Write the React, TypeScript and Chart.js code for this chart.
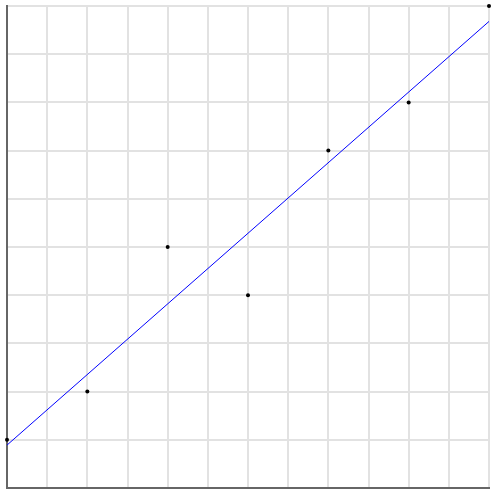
import React, { useEffect, useRef } from "react";
import { Chart, registerables } from "chart.js";

Chart.register(...registerables);

const pointX = [0, 2, 4, 6, 8, 10, 12];
const pointY = [1, 2, 5, 4, 7, 8, 10];
const fitX = [0, 12];
const fitY = [0.89, 9.68];

export default function App() {
  const ref = useRef<HTMLCanvasElement | null>(null);
  useEffect(() => {
    if (!ref.current) return;
    const chart = new Chart(ref.current, {
      type: "scatter",
      data: {
        datasets: [
          {
            label: "points",
            data: pointX.map((x, i) => ({ x, y: pointY[i] })),
            backgroundColor: "#000",
            borderColor: "#000",
            pointRadius: 2,
            borderWidth: 0,
            clip: false as any,
          },
          {
            label: "fit",
            type: "line" as any,
            data: fitX.map((x, i) => ({ x, y: fitY[i] })),
            borderColor: "#0000ff",
            borderWidth: 1,
            pointRadius: 0,
            fill: false,
          },
        ],
      },
      options: {
        animation: false,
        responsive: false,
        maintainAspectRatio: false,
        layout: { padding: { left: 7, top: 6, right: 11, bottom: 11 } },
        plugins: { legend: { display: false }, tooltip: { enabled: false } },
        scales: {
          x: {
            type: "linear",
            min: 0,
            max: 12,
            ticks: { display: false, stepSize: 1 },
            grid: { color: "#e2e2e2", lineWidth: 2, drawTicks: false },
            border: { color: "#666", width: 2 },
          },
          y: {
            type: "linear",
            min: 0,
            max: 10,
            ticks: { display: false, stepSize: 1 },
            grid: { color: "#e2e2e2", lineWidth: 2, drawTicks: false },
            border: { color: "#666", width: 2 },
          },
        },
      },
    });
    return () => chart.destroy();
  }, []);
  return (
    <div style={{ position: "fixed", left: 0, top: 0, width: 500, height: 499 }}>
      <canvas ref={ref} width={500} height={499} style={{ display: "block" }} />
    </div>
  );
}
